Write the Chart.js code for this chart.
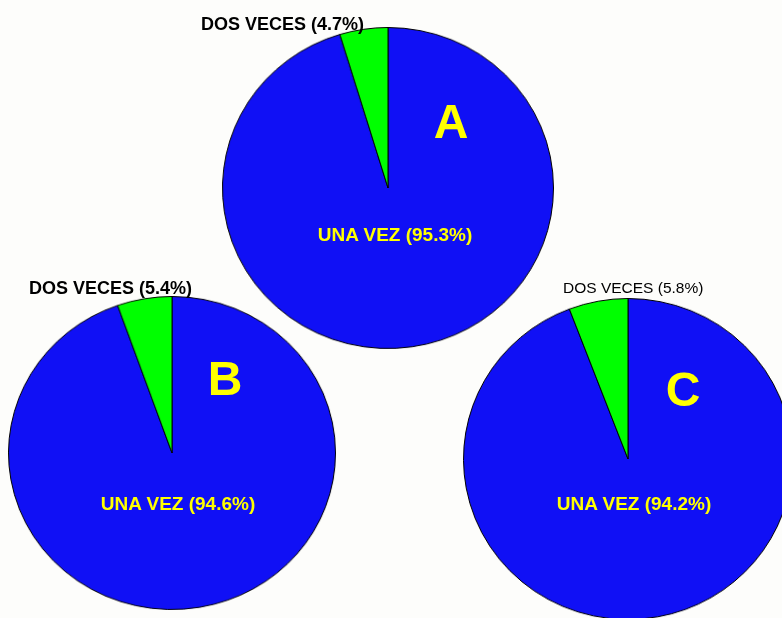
<!DOCTYPE html>
<html>
<head>
<meta charset="utf-8">
<script src="https://cdn.jsdelivr.net/npm/chart.js@4.4.0/dist/chart.umd.min.js"></script>
<style>
  html, body { margin: 0; padding: 0; }
  body { width: 782px; height: 618px; overflow: hidden; background: #fdfdfb; position: relative;
         font-family: "Liberation Sans", Arial, sans-serif; }
  .pie { position: absolute; }
  .txt { position: absolute; white-space: nowrap; line-height: 1; }
  .dos { color: #000; font-weight: bold; font-size: 18px; }
  .una { color: #ffff00; font-weight: bold; font-size: 19px; transform: translateX(-50%); }
  .big { color: #ffff00; font-weight: bold; font-size: 48px; transform: translateX(-50%); }
</style>
</head>
<body>
<script>
// data
const groups = ['A', 'B', 'C'];
const categories = ['UNA VEZ', 'DOS VECES'];
const unaVez = [95.3, 94.6, 94.2];
const dosVeces = [4.7, 5.4, 5.8];

const blue = '#1010f5';
const green = '#00ff00';

// where each pie and its texts sit on the page (pies are slightly squashed, as in the scan)
const layout = [
  { cx: 388, cy: 187.5, w: 332, h: 322, dos: [201, 15], dosWeight: 'bold', dosSize: 18, una: [395, 225], big: [451, 98] },
  { cx: 172, cy: 453, w: 328, h: 314, dos: [29, 279], dosWeight: 'bold', dosSize: 18, una: [178, 494], big: [225, 355] },
  { cx: 628, cy: 459, w: 330, h: 322, dos: [563, 280], dosWeight: 'normal', dosSize: 15.5, una: [634, 494], big: [683, 366] }
];
const size = 330;

function addText(cls, text, x, y) {
  const d = document.createElement('div');
  d.className = 'txt ' + cls;
  d.textContent = text;
  d.style.left = x + 'px';
  d.style.top = y + 'px';
  document.body.appendChild(d);
  return d;
}

groups.forEach(function(g, i) {
  const pos = layout[i];
  const cv = document.createElement('canvas');
  cv.className = 'pie';
  cv.width = size;
  cv.height = size;
  cv.style.width = pos.w + 'px';
  cv.style.height = pos.h + 'px';
  cv.style.left = (pos.cx - pos.w / 2) + 'px';
  cv.style.top = (pos.cy - pos.h / 2) + 'px';
  document.body.appendChild(cv);

  new Chart(cv.getContext('2d'), {
    type: 'pie',
    data: {
      labels: categories,
      datasets: [{
        data: [unaVez[i], dosVeces[i]],
        backgroundColor: [blue, green],
        borderColor: '#000',
        borderWidth: 1
      }]
    },
    options: {
      responsive: false,
      animation: false,
      layout: { padding: 0 },
      plugins: { legend: { display: false }, tooltip: { enabled: false } }
    }
  });

  const dos = addText('dos', categories[1] + ' (' + dosVeces[i].toFixed(1) + '%)', pos.dos[0], pos.dos[1]);
  dos.style.fontWeight = pos.dosWeight;
  dos.style.fontSize = pos.dosSize + 'px';
  addText('una', categories[0] + ' (' + unaVez[i].toFixed(1) + '%)', pos.una[0], pos.una[1]);
  addText('big', g, pos.big[0], pos.big[1]);
});
</script>
</body>
</html>
